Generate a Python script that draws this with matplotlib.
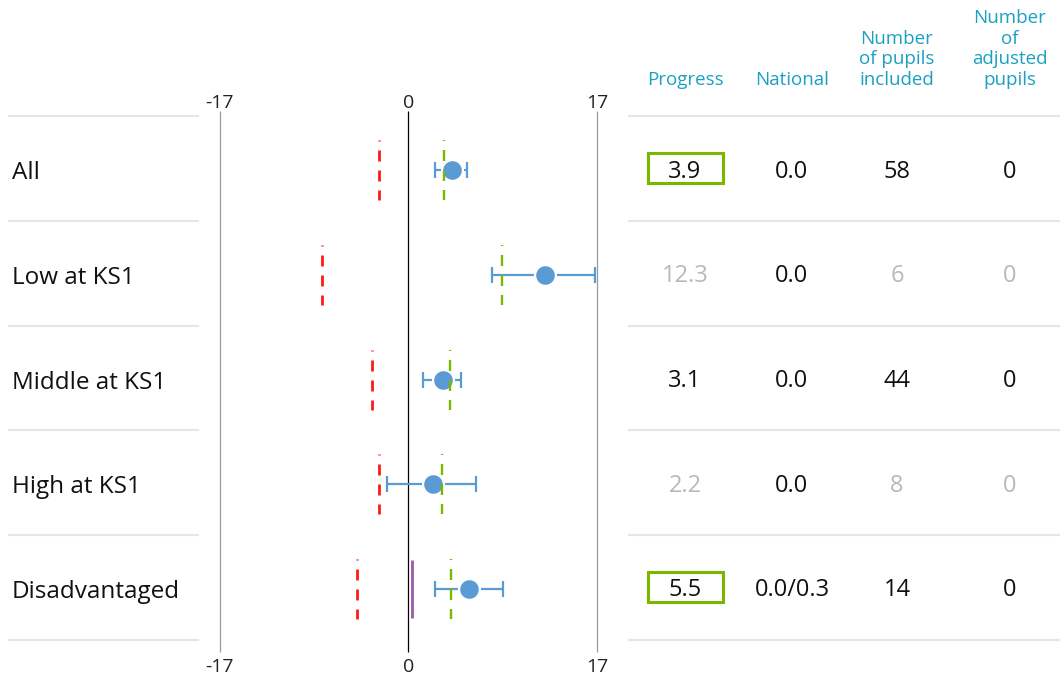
import matplotlib
matplotlib.use("Agg")
import matplotlib.pyplot as plt
from matplotlib.lines import Line2D
from matplotlib.patches import Rectangle

plt.rcParams["font.family"] = ["Open Sans", "DejaVu Sans"]
plt.rcParams["lines.scale_dashes"] = False

# ---- data -------------------------------------------------------------
categories = ["All", "Low at KS1", "Middle at KS1", "High at KS1", "Disadvantaged"]
progress = [3.9, 12.3, 3.1, 2.2, 5.5]
ci_low = [2.4, 7.5, 1.3, -1.9, 2.4]
ci_high = [5.3, 16.8, 4.7, 6.1, 8.5]
green_marker = [3.2, 8.4, 3.7, 3.0, 3.8]
red_marker = [-2.7, -7.8, -3.3, -2.7, -4.6]
national_labels = ["0.0", "0.0", "0.0", "0.0", "0.0/0.3"]
disadvantaged_national = 0.3
pupils_included = [58, 6, 44, 8, 14]
adjusted_pupils = [0, 0, 0, 0, 0]
highlighted = [True, False, False, False, True]
low_count = [False, True, False, True, False]
axis_limit = 17
axis_ticks = [-17, 0, 17]
headers = [["Progress"], ["National"], ["Number", "of pupils", "included"],
           ["Number", "of", "adjusted", "pupils"]]

# ---- layout (pixels) --------------------------------------------------
W, H = 1060, 675
ROW0, ROW_H = 170.0, 104.75
CHART_L, CHART_R = 220, 597
COL_X = [685, 792, 897, 1010]

BLUE = "#5b9bd5"
RED = "#ff1a1a"
GREEN = "#7ab800"
PURPLE = "#9b5aa6"
TEAL = "#1ba0c4"
GREY_TXT = "#b8b8b8"
SEP = "#e6e6e6"

fig = plt.figure(figsize=(W / 100, H / 100), dpi=100)
fig.patch.set_facecolor("white")


def fx(px):
    return px / W


def fy(py):
    return 1 - py / H


def row_px(i):
    return ROW0 + i * ROW_H


# chart axes: x in progress units, y in row units (row i centred at i)
ax = fig.add_axes([fx(CHART_L), 0, (CHART_R - CHART_L) / W, 1])
ax.set_xlim(-axis_limit, axis_limit)
ax.set_ylim((H - ROW0) / ROW_H, -ROW0 / ROW_H)
ax.axis("off")

top_y = (111 - ROW0) / ROW_H
bot_y = (652 - ROW0) / ROW_H
for t in axis_ticks:
    ax.plot([t, t], [top_y, bot_y], color="black" if t == 0 else "#9a9a9a",
            lw=0.9, zorder=1, solid_capstyle="butt", clip_on=False)
    ax.text(t, (108 - ROW0) / ROW_H, f"{t}", ha="center", va="baseline",
            fontsize=14, color="#222222")
    ax.text(t, (672 - ROW0) / ROW_H, f"{t}", ha="center", va="baseline",
            fontsize=14, color="#222222")

half = 30 / ROW_H
dash = (7.2, (7.9, 6.5))
for i in range(len(categories)):
    ax.plot([red_marker[i]] * 2, [i - half, i + half], color=RED, lw=2.0,
            ls=dash, zorder=2, clip_on=False)
    ax.errorbar(progress[i], i, xerr=[[progress[i] - ci_low[i]], [ci_high[i] - progress[i]]],
                fmt="none", ecolor=BLUE, elinewidth=1.6, capsize=5.5, capthick=1.6,
                zorder=3, clip_on=False)
    ax.plot(progress[i], i, "o", ms=15, mfc=BLUE, mec="white", mew=1.6, zorder=4,
            clip_on=False)
    ax.plot([green_marker[i]] * 2, [i - half, i + half], color=GREEN, lw=1.7,
            ls=dash, zorder=5, clip_on=False)

dis = categories.index("Disadvantaged")
ax.plot([disadvantaged_national] * 2, [dis - 29 / ROW_H, dis + 29 / ROW_H],
        color=PURPLE, lw=2.0, zorder=3, solid_capstyle="butt")

# ---- row separators --------------------------------------------------
for k in range(len(categories) + 1):
    yy = fy(row_px(k - 0.5) - 1.5)
    for x0, x1 in [(9, 198), (629, 954), (956, 1060)]:
        fig.add_artist(Line2D([fx(x0), fx(x1)], [yy, yy], color=SEP, lw=1.5))

# ---- row labels --------------------------------------------------------
for i, name in enumerate(categories):
    fig.text(fx(12), fy(row_px(i) + 9), name, ha="left", va="baseline",
             fontsize=17.5, color="#111111")

# ---- table headers ---------------------------------------------------
for cx, lines in zip(COL_X, headers):
    for k, line in enumerate(reversed(lines)):
        fig.text(fx(cx), fy(85 - k * 20.6), line, ha="center", va="baseline",
                 fontsize=13.5, color=TEAL)

# ---- table values ----------------------------------------------------
for i in range(len(categories)):
    base = row_px(i) + 7.5
    dim = GREY_TXT if low_count[i] else "#111111"
    cells = [(f"{progress[i]:.1f}", dim), (national_labels[i], "#111111"),
             (f"{pupils_included[i]}", dim), (f"{adjusted_pupils[i]}", dim)]
    for cx, (txt, col) in zip(COL_X, cells):
        fig.text(fx(cx), fy(base), txt, ha="center", va="baseline",
                 fontsize=17, color=col)
    if highlighted[i]:
        cy = row_px(i) - 2
        fig.add_artist(Rectangle((fx(COL_X[0] - 37.5), fy(cy + 15)), 75 / W, 30 / H,
                                 fill=False, ec=GREEN, lw=2.2))

fig.savefig("out.png", dpi=100, facecolor="white")
